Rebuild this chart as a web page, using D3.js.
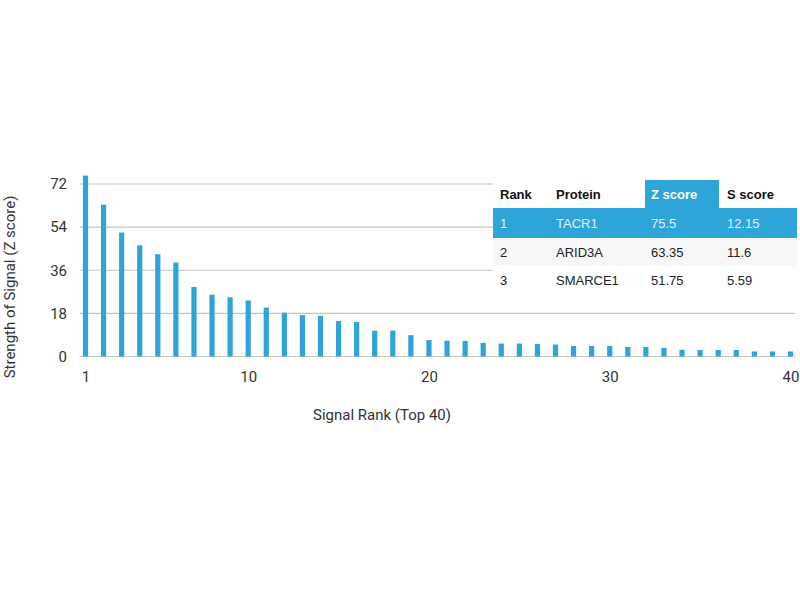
<!DOCTYPE html>
<html>
<head>
<meta charset="utf-8">
<script src="https://cdn.jsdelivr.net/npm/d3@7.9.0/dist/d3.min.js"></script>
<style>
  html, body { margin: 0; padding: 0; background: #fff; }
  svg { display: block; }
</style>
</head>
<body>
<div id="chart"></div>
<script>
// z scores of the top 40 signals
const zScores = [
  75.5, 63.35, 51.75, 46.4, 42.7, 39.2, 29.0, 25.8, 24.7, 23.4,
  20.4, 18.3, 17.3, 17.0, 14.8, 14.4, 10.8, 10.8, 8.9, 6.9,
  6.6, 6.5, 5.7, 5.4, 5.4, 5.3, 5.0, 4.4, 4.4, 4.4,
  4.0, 4.0, 3.6, 2.8, 2.7, 2.7, 2.7, 2.1, 2.1, 2.1,
];
const xTicks = [1, 10, 20, 30, 40];
const yTicks = [0, 18, 36, 54, 72];

const tableHeaders = ['Rank', 'Protein', 'Z score', 'S score'];
const tableRanks = ['1', '2', '3'];
const tableProteins = ['TACR1', 'ARID3A', 'SMARCE1'];
const tableZ = ['75.5', '63.35', '51.75'];
const tableS = ['12.15', '11.6', '5.59'];

const width = 800;
const height = 600;
const blue = '#2fa4d9';
const axisFont = 'Roboto, sans-serif';
const tableFont = '"Liberation Sans", Arial, sans-serif';

const svg = d3.select('#chart')
  .append('svg')
  .attr('width', width)
  .attr('height', height);

const xScale = d3.scaleLinear().domain([1, 40]).range([85.5, 790.5]);
const yScale = d3.scaleLinear().domain([0, 72]).range([356.5, 184]);

// gridlines
svg.append('g')
  .selectAll('line')
  .data(yTicks)
  .join('line')
  .attr('x1', 80)
  .attr('x2', 795)
  .attr('y1', (d) => yScale(d))
  .attr('y2', (d) => yScale(d))
  .attr('stroke', '#c4c4c4')
  .attr('stroke-width', 1.2);

// bars
svg.append('g')
  .selectAll('rect')
  .data(zScores)
  .join('rect')
  .attr('x', (d, i) => xScale(i + 1) - 2.6)
  .attr('width', 5.2)
  .attr('y', (d) => yScale(d))
  .attr('height', (d) => yScale(0) - yScale(d))
  .attr('fill', blue);

// axes (labels only)
const yAxis = svg.append('g')
  .attr('transform', 'translate(67,0)')
  .call(d3.axisLeft(yScale).tickValues(yTicks).tickSize(0).tickPadding(0));
yAxis.select('.domain').remove();
yAxis.selectAll('text')
  .attr('font-family', axisFont)
  .attr('font-size', 15)
  .attr('fill', '#333');

const xAxis = svg.append('g')
  .attr('transform', 'translate(0,371)')
  .call(d3.axisBottom(xScale).tickValues(xTicks).tickSize(0).tickPadding(0));
xAxis.select('.domain').remove();
xAxis.selectAll('text')
  .attr('font-family', axisFont)
  .attr('font-size', 15)
  .attr('fill', '#333');

svg.append('text')
  .attr('x', 382)
  .attr('y', 420)
  .attr('text-anchor', 'middle')
  .attr('font-family', axisFont)
  .attr('font-size', 15)
  .attr('fill', '#333')
  .text('Signal Rank (Top 40)');

svg.append('text')
  .attr('transform', 'translate(15,287) rotate(-90)')
  .attr('text-anchor', 'middle')
  .attr('font-family', axisFont)
  .attr('font-size', 15)
  .attr('fill', '#333')
  .text('Strength of Signal (Z score)');

// table
const table = { left: 493, right: 797, top: 180 };
const rowTops = [180, 208, 238, 266];
const rowHeights = [28, 30, 28, 28];
const colX = [500, 556, 651, 727];

const tg = svg.append('g');
tg.append('rect')
  .attr('x', table.left)
  .attr('y', table.top)
  .attr('width', table.right - table.left)
  .attr('height', 116)
  .attr('fill', '#fff');

// highlighted z score header cell
tg.append('rect')
  .attr('x', 645)
  .attr('y', rowTops[0])
  .attr('width', 74)
  .attr('height', rowHeights[0])
  .attr('fill', blue);

const rowFills = [blue, '#f7f7f7', '#fff'];
tg.selectAll('rect.row')
  .data(rowFills)
  .join('rect')
  .attr('class', 'row')
  .attr('x', table.left)
  .attr('y', (d, i) => rowTops[i + 1])
  .attr('width', table.right - table.left)
  .attr('height', (d, i) => rowHeights[i + 1])
  .attr('fill', (d) => d);

tg.selectAll('text.head')
  .data(tableHeaders)
  .join('text')
  .attr('class', 'head')
  .attr('x', (d, i) => colX[i])
  .attr('y', rowTops[0] + rowHeights[0] / 2)
  .attr('dy', '0.35em')
  .attr('font-family', tableFont)
  .attr('font-weight', 'bold')
  .attr('font-size', 13)
  .attr('fill', (d, i) => (i === 2 ? '#fff' : '#111'))
  .text((d) => d);

const rows = tableRanks.map((r, i) => [r, tableProteins[i], tableZ[i], tableS[i]]);
rows.forEach((cells, ri) => {
  tg.selectAll(`text.r${ri}`)
    .data(cells)
    .join('text')
    .attr('class', `r${ri}`)
    .attr('x', (d, i) => colX[i])
    .attr('y', rowTops[ri + 1] + rowHeights[ri + 1] / 2)
    .attr('dy', '0.35em')
    .attr('font-family', tableFont)
    .attr('font-size', 13)
    .attr('fill', ri === 0 ? '#dff1fb' : '#222')
    .text((d) => d);
});
</script>
</body>
</html>
